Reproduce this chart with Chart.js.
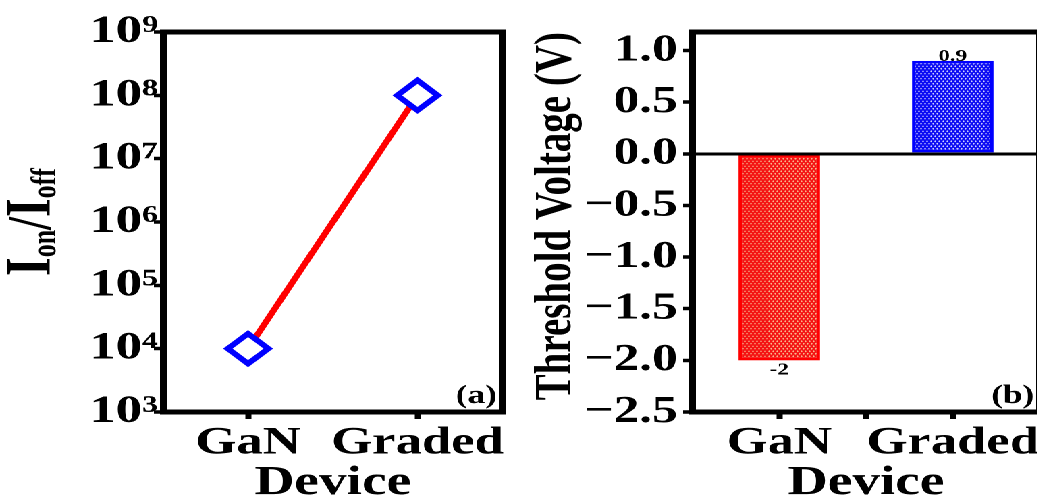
<!DOCTYPE html>
<html lang="en">
<head>
  <meta charset="UTF-8">
  <title>Ion/Ioff ratio and threshold voltage</title>
  <script src="https://cdn.jsdelivr.net/npm/chart.js"></script>
  <style>
    html, body {
      margin: 0;
      padding: 0;
      background: #fff;
      overflow: hidden;
    }

    /* the original figure is stretched sideways, so draw narrow and scale */
    #stage {
      position: absolute;
      left: 0;
      top: 0;
      width: 768px;
      height: 504px;
      transform: scaleX(1.35);
      transform-origin: 0 0;
    }

    #panelA {
      position: absolute;
      left: 0;
      top: 0;
      width: 392px;
      height: 504px;
    }

    #panelB {
      position: absolute;
      left: 392px;
      top: 0;
      width: 378px;
      height: 504px;
    }
  </style>
</head>
<body>

  <div id="stage">
    <div id="panelA"><canvas id="ratioChart"></canvas></div>
    <div id="panelB"><canvas id="vthChart"></canvas></div>
  </div>

  <script>
    const devices = ['GaN', 'Graded'];

    // (a) on/off current ratio
    const onOffRatio = [1e4, 1e8];
    const ratioTicks = [1e3, 1e4, 1e5, 1e6, 1e7, 1e8, 1e9];

    // (b) threshold voltage in volts
    const thresholdV = [-2, 0.9];
    const vthTicks = [-2.5, -2.0, -1.5, -1.0, -0.5, 0.0, 0.5, 1.0];

    const SERIF = '"Liberation Serif", "Times New Roman", serif';
    const SUP = '⁰¹²³⁴⁵⁶⁷⁸⁹';

    Chart.defaults.font.family = SERIF;
    Chart.defaults.color = '#000';

    function bold(size) {
      return { family: SERIF, size: size, weight: 'bold', lineHeight: 1 };
    }

    // crosshatch fill like the original bars
    function makeMesh(base, dot) {
      const c = document.createElement('canvas');
      c.width = 12;
      c.height = 20;
      const g = c.getContext('2d');
      g.fillStyle = base;
      g.fillRect(0, 0, 12, 20);
      g.fillStyle = dot;
      [[3, 5], [9, 15]].forEach(([x, y]) => {
        g.beginPath();
        g.moveTo(x - 3.2, y);
        g.lineTo(x, y - 4);
        g.lineTo(x + 3.2, y);
        g.lineTo(x, y + 4);
        g.closePath();
        g.fill();
      });
      const p = g.createPattern(c, 'repeat');
      p.setTransform(new DOMMatrix().scale(0.25));
      return p;
    }

    // box round the plot area, plus optional extra x tick between the bars
    const frame = {
      id: 'frame',
      afterDraw(chart, args, opts) {
        const { ctx, chartArea: a } = chart;
        ctx.save();
        ctx.strokeStyle = '#000';
        ctx.lineWidth = 5;
        ctx.strokeRect(a.left, a.top, a.right - a.left, a.bottom - a.top);
        if (opts.midTick) {
          const mx = (a.left + a.right) / 2;
          ctx.lineWidth = 4.5;
          ctx.beginPath();
          ctx.moveTo(mx, a.bottom);
          ctx.lineTo(mx, a.bottom + 7);
          ctx.stroke();
        }
        ctx.restore();
      }
    };

    // "(a)" / "(b)" tag in the lower right corner
    const panelTag = {
      id: 'panelTag',
      afterDraw(chart, args, opts) {
        const { ctx, chartArea: a } = chart;
        ctx.save();
        ctx.font = 'bold 26px ' + SERIF;
        ctx.fillStyle = '#000';
        ctx.textAlign = 'right';
        ctx.textBaseline = 'alphabetic';
        ctx.fillText(opts.text, a.right - 4, a.bottom - 9);
        ctx.restore();
      }
    };

    // I_on / I_off axis title with real subscripts
    const ratioTitle = {
      id: 'ratioTitle',
      afterDraw(chart) {
        const { ctx, chartArea: a } = chart;
        const parts = [
          ['I', 48, 0], ['on', 26, 4], ['/', 46, 0], ['I', 48, 0], ['off', 26, 4]
        ];
        ctx.save();
        ctx.fillStyle = '#000';
        ctx.textBaseline = 'alphabetic';
        ctx.textAlign = 'left';
        let total = 0;
        parts.forEach(p => {
          ctx.font = 'bold ' + p[1] + 'px ' + SERIF;
          total += ctx.measureText(p[0]).width;
        });
        ctx.translate(37, (a.top + a.bottom) / 2);
        ctx.rotate(-Math.PI / 2);
        let x = -total / 2;
        parts.forEach(p => {
          ctx.font = 'bold ' + p[1] + 'px ' + SERIF;
          ctx.fillText(p[0], x, p[2]);
          x += ctx.measureText(p[0]).width;
        });
        ctx.restore();
      }
    };

    // value written at the end of each bar
    const barValues = {
      id: 'barValues',
      afterDatasetsDraw(chart) {
        const { ctx } = chart;
        const ds = chart.data.datasets[0];
        ctx.save();
        ctx.font = 'bold 17px ' + SERIF;
        ctx.fillStyle = '#000';
        ctx.textAlign = 'center';
        chart.getDatasetMeta(0).data.forEach((bar, i) => {
          const v = ds.data[i];
          if (v >= 0) {
            ctx.textBaseline = 'alphabetic';
            ctx.fillText(String(v), bar.x, bar.y);
          } else {
            ctx.textBaseline = 'top';
            ctx.fillText(String(v), bar.x, bar.y + 1);
          }
        });
        ctx.restore();
      }
    };

    function deviceAxis() {
      return {
        offset: true,
        grid: {
          offset: false,
          drawOnChartArea: false,
          tickLength: 7,
          tickWidth: 4.5,
          tickColor: '#000'
        },
        border: { display: true, color: '#000', width: 5 },
        ticks: { font: bold(39), color: '#000', padding: 5, maxRotation: 0, autoSkip: false },
        title: {
          display: true,
          text: 'Device',
          font: bold(41),
          color: '#000',
          padding: 0
        },
        afterFit: s => {
          s.height = 92;
          // labels may spill past the frame, do not shrink the plot for them
          s.paddingLeft = 0;
          s.paddingRight = 0;
        }
      };
    }

    // Chart (a) - on/off ratio
    new Chart(document.getElementById('ratioChart'), {
      type: 'line',
      data: {
        labels: devices,
        datasets: [{
          data: onOffRatio,
          borderColor: '#ff0000',
          borderWidth: 5,
          tension: 0,
          pointStyle: 'rectRot',
          pointRadius: 15,
          pointBorderWidth: 5,
          pointBorderColor: '#0000ff',
          pointBackgroundColor: '#ffffff'
        }]
      },
      options: {
        responsive: true,
        maintainAspectRatio: false,
        animation: false,
        devicePixelRatio: 2,
        layout: { padding: { top: 32, right: 12, left: 0, bottom: 0 } },
        plugins: {
          legend: { display: false },
          tooltip: { enabled: false },
          panelTag: { text: '(a)' }
        },
        scales: {
          x: deviceAxis(),
          y: {
            type: 'logarithmic',
            min: 1e3,
            max: 1e9,
            afterBuildTicks: s => { s.ticks = ratioTicks.map(v => ({ value: v })); },
            ticks: {
              font: bold(39),
              color: '#000',
              padding: -3,
              callback: v => '10' + SUP[Math.round(Math.log10(v))]
            },
            grid: {
              drawOnChartArea: false,
              tickLength: 7,
              tickWidth: 3.5,
              tickColor: '#000'
            },
            border: { display: true, color: '#000', width: 5 },
            afterFit: s => { s.width = 121; }
          }
        }
      },
      plugins: [frame, panelTag, ratioTitle]
    });

    // Chart (b) - threshold voltage
    new Chart(document.getElementById('vthChart'), {
      type: 'bar',
      data: {
        labels: devices,
        datasets: [{
          data: thresholdV,
          backgroundColor: [makeMesh('#f41414', '#f9b98e'), makeMesh('#0c0cf4', '#cfd0ff')],
          borderColor: ['#ff0000', '#0000ff'],
          borderWidth: 2.5,
          borderSkipped: false,
          barPercentage: 0.47,
          categoryPercentage: 1
        }]
      },
      options: {
        responsive: true,
        maintainAspectRatio: false,
        animation: false,
        devicePixelRatio: 2,
        layout: { padding: { top: 32, right: 0, left: 0, bottom: 0 } },
        plugins: {
          legend: { display: false },
          tooltip: { enabled: false },
          panelTag: { text: '(b)' },
          frame: { midTick: true }
        },
        scales: {
          x: deviceAxis(),
          y: {
            min: -2.5,
            max: 1.18,
            afterBuildTicks: s => { s.ticks = vthTicks.map(v => ({ value: v })); },
            ticks: {
              font: bold(38),
              color: '#000',
              padding: 4,
              callback: v => (v < 0 ? '\u2212' : '') + Math.abs(v).toFixed(1)
            },
            grid: {
              drawOnChartArea: true,
              color: ctx => (ctx.tick && ctx.tick.value === 0 ? '#000' : 'rgba(0,0,0,0)'),
              lineWidth: 3,
              tickLength: 7,
              tickWidth: 3.5,
              tickColor: '#000'
            },
            border: { display: true, color: '#000', width: 5 },
            title: {
              display: true,
              text: 'Threshold Voltage (V)',
              font: bold(39),
              color: '#000',
              align: 'end',
              padding: 1
            },
            afterFit: s => { s.width = 121; }
          }
        }
      },
      plugins: [frame, panelTag, barValues]
    });
  </script>

</body>
</html>
